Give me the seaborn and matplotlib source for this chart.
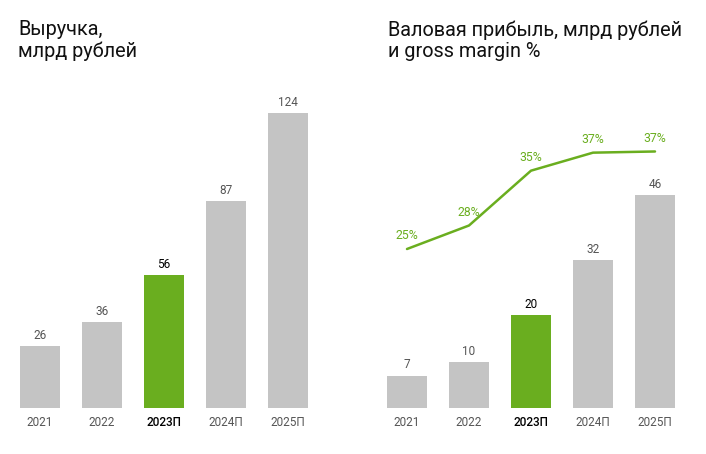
import numpy as np
import matplotlib
matplotlib.use("Agg")
import matplotlib.pyplot as plt
import seaborn as sns

years = ["2021", "2022", "2023П", "2024П", "2025П"]
revenue = [26, 36, 56, 87, 124]
gross_profit = [7, 10, 20, 32, 46]
gross_margin = [25, 28, 35, 37.3, 37.45]
highlight = "2023П"

GRAY = "#c4c4c4"
GREEN = "#6aae1f"
TXT = "#555555"

sns.set_theme(style="white")
plt.rcParams["font.family"] = ["Roboto", "DejaVu Sans"]

fig = plt.figure(figsize=(7.06, 4.54), dpi=100)
ax1 = fig.add_axes([9 / 706, 46 / 454, 310 / 706, 318 / 454])
ax2 = fig.add_axes([376 / 706, 46 / 454, 310 / 706, 318 / 454])

palette = {y: (GREEN if y == highlight else GRAY) for y in years}


def bars(ax, vals, ytop):
    sns.barplot(x=years, y=vals, hue=years, palette=palette, legend=False,
                width=0.65, saturation=1, ax=ax, linewidth=0)
    ax.set_xlim(-0.5, len(years) - 0.5)
    ax.set_ylim(0, ytop)
    for i, (y, v) in enumerate(zip(years, vals)):
        hl = y == highlight
        ax.annotate(f"{v}", (i, v), xytext=(0, 3), textcoords="offset points",
                    ha="center", va="bottom", fontsize=8.5,
                    color="black" if hl else TXT)
    ax.set_yticks([])
    ax.set_xlabel("")
    ax.set_ylabel("")
    ax.tick_params(axis="x", length=0, pad=6)
    ax.set_xticks(range(len(years)))
    ax.set_xticklabels(years, fontsize=8.5)
    for lab in ax.get_xticklabels():
        if lab.get_text() == highlight:
            lab.set_color("black")
            lab.set_fontweight("medium")
        else:
            lab.set_color(TXT)
    sns.despine(ax=ax, left=True, bottom=True)


bars(ax1, revenue, 133.6)
bars(ax2, gross_profit, 68.7)

ax3 = ax2.twinx()
sns.lineplot(x=np.arange(len(years)), y=gross_margin, color=GREEN, linewidth=1.8, ax=ax3)
ax3.set_ylim(4.7, 45.3)
ax3.set_xlim(-0.5, len(years) - 0.5)
for i, m in enumerate(gross_margin):
    ax3.annotate(f"{m:.0f}%", (i, m), xytext=(0, 5), textcoords="offset points",
                 ha="center", va="bottom", fontsize=8.8, color=GREEN)
ax3.set_yticks([])
sns.despine(ax=ax3, left=True, bottom=True, right=True)

fig.text(18 / 706, 1 - 20 / 454, "Выручка,\nмлрд рублей", fontsize=14.3,
         ha="left", va="top", color="#111111", linespacing=1.15)
fig.text(388 / 706, 1 - 20 / 454, "Валовая прибыль, млрд рублей\nи gross margin %",
         fontsize=14.3, ha="left", va="top", color="#111111", linespacing=1.15)

fig.savefig("out.png", dpi=100)
